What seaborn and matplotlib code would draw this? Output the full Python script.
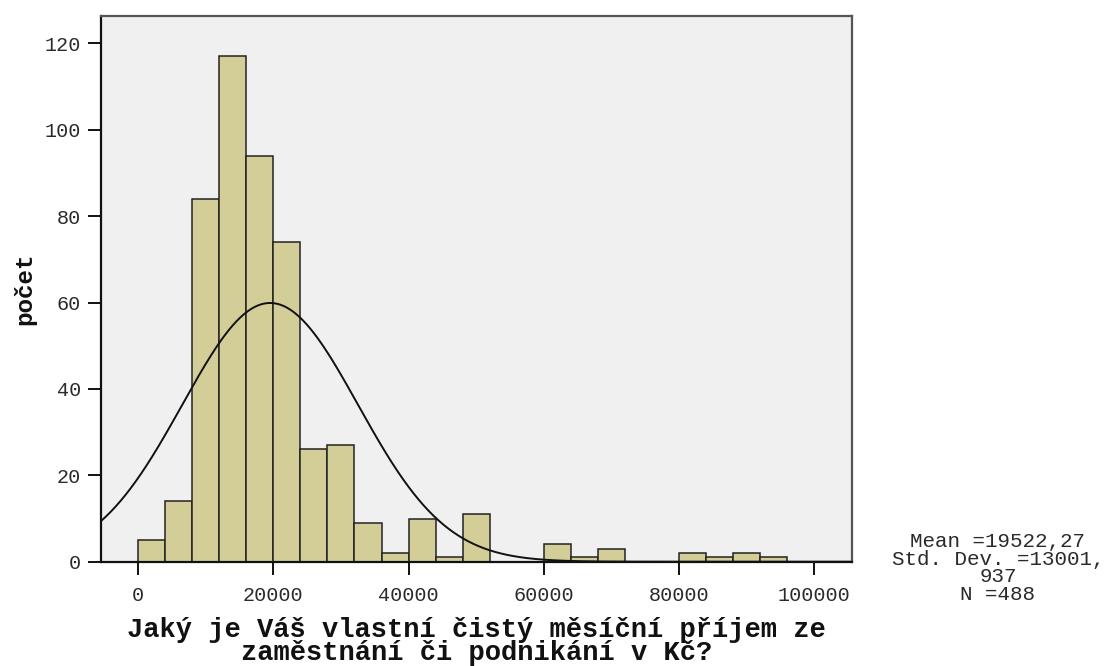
import numpy as np
import pandas as pd
import matplotlib
matplotlib.use("Agg")
import matplotlib.pyplot as plt
import seaborn as sns

# ---- data ----
bin_width = 4000
bin_starts = list(range(0, 96000, 4000))
counts = [5, 14, 84, 117, 94, 74, 26, 27, 9, 2, 10, 1, 11, 0, 0, 4, 1, 3, 0, 0, 2, 1, 2, 1]
stat_mean = 19522.27
stat_sd = 13001.937
stat_n = 488
x_ticks = [0, 20000, 40000, 60000, 80000, 100000]
y_ticks = [0, 20, 40, 60, 80, 100, 120]
x_label = "Jaký je Váš vlastní čistý měsíční příjem ze\nzaměstnání či podnikání v Kč?"
y_label = "počet"
stats_lines = ["Mean =19522,27", "Std. Dev. =13001,", "937", "N =488"]

sns.set_theme(style="white")
plt.rcParams["font.family"] = ["Liberation Mono", "DejaVu Sans Mono"]

W, H = 1110, 666
fig = plt.figure(figsize=(W / 100, H / 100), dpi=100)
ax = fig.add_axes([101 / W, 104.3 / H, 751 / W, 546 / H])
ax.set_facecolor("#F0F0F0")

df = pd.DataFrame({"x": [b + bin_width / 2 for b in bin_starts], "w": counts})
edges = bin_starts + [bin_starts[-1] + bin_width]
sns.histplot(data=df, x="x", weights="w", bins=edges, ax=ax,
             color="#D3CE97", edgecolor="#222222", linewidth=1.1, alpha=1.0)

# normal curve from the displayed statistics
xs = np.linspace(-5500, 105600, 600)
ys = stat_n * bin_width / (stat_sd * np.sqrt(2 * np.pi)) * np.exp(-0.5 * ((xs - stat_mean) / stat_sd) ** 2)
sns.lineplot(x=xs, y=ys, ax=ax, color="#111111", linewidth=1.4)

ax.set_xlim(-5500, 105600)
ax.set_ylim(0, 126.4)
ax.set_xticks(x_ticks)
ax.set_xticklabels([str(t) for t in x_ticks])
ax.set_yticks(y_ticks)
ax.set_yticklabels([str(t) for t in y_ticks])
ax.tick_params(axis="both", direction="out", length=9.5, width=1.4, color="#111111",
               labelsize=14.5, labelcolor="#2a2a2a", pad=5)
ax.tick_params(axis="x", pad=8)
ax.tick_params(axis="both", bottom=True, left=True)

for side in ["left", "bottom"]:
    ax.spines[side].set_color("#111111")
    ax.spines[side].set_linewidth(1.6)
for side in ["top", "right"]:
    ax.spines[side].set_color("#555555")
    ax.spines[side].set_linewidth(1.6)

ax.set_xlabel(x_label, fontsize=19.5, fontweight="bold", color="#111111", linespacing=0.86)
ax.xaxis.set_label_coords(0.5, -0.101)
ax.set_ylabel(y_label, fontsize=17.5, fontweight="bold", color="#111111", labelpad=6)

fig.text(998 / W, 1 - 568 / H, "\n".join(stats_lines), ha="center", va="center",
         fontsize=15, color="#2a2a2a", linespacing=0.9, multialignment="center")

fig.savefig("out.png", dpi=100)
